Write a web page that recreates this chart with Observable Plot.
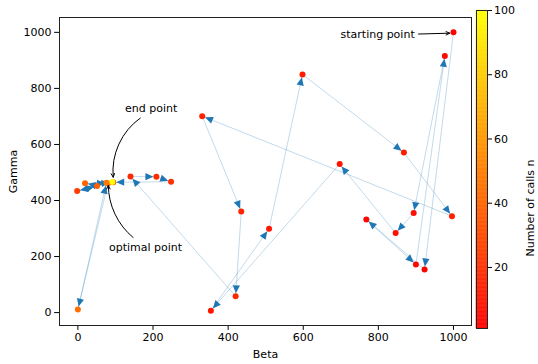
<!DOCTYPE html>
<html><head><meta charset="utf-8">
<script src="https://cdn.jsdelivr.net/npm/d3@7"></script>
<script src="https://cdn.jsdelivr.net/npm/@observablehq/plot@0.6"></script>
<style>
body{margin:0;background:#fff;}
#wrap{position:relative;width:538px;height:364px;}
#wrap svg{position:absolute;top:0;}
</style></head><body><div id="wrap"></div>
<script>
// Visited points in call order
const beta  = [1000, 923, 768, 900, 977, 894, 846, 697, 354, 509, 598, 868, 996, 331, 435, 420, 140, 209, 248, 94, -2, 51, 19, 80, 0, 76, 92];
const gamma = [1000, 154, 332, 172, 916, 355, 284, 530, 7, 299, 850, 571, 344, 701, 361, 58, 486, 485, 467, 465, 434, 452, 462, 461, 11, 463, 466];
const calls = [1, 2, 3, 4, 5, 6, 7, 8, 9, 10, 11, 12, 13, 14, 15, 16, 17, 18, 20, 21, 24, 38, 40, 42, 44, 48, 100];
const xTicks = [0, 200, 400, 600, 800, 1000];
const yTicks = [0, 200, 400, 600, 800, 1000];
const cTicks = [20, 40, 60, 80, 100];
// annotations
const annoLabel = ["starting point", "end point", "optimal point"];
const annoTextBeta = [798, 195, 180];
const annoTextGamma = [994, 729, 232];
const annoFromBeta = [907, 166, 147];
const annoFromGamma = [994, 694, 268];
const annoToBeta = [990, 94, 81];
const annoToGamma = [997, 483, 454];
const annoBend = [0, -30, 25];

const W = 538, H = 364, ML = 59, MR = 67, MT = 17, MB = 39;
const xDom = [-49, 1048], yDom = [-46, 1053];
const kx = (W - ML - MR) / (xDom[1] - xDom[0]);
const ky = (H - MT - MB) / (yDom[1] - yDom[0]);

const pts = beta.map((b, i) => ({beta: b, gamma: gamma[i], n: calls[i]}));
const segs = d3.range(pts.length - 1).map(i => ({x1: beta[i], y1: gamma[i], x2: beta[i + 1], y2: gamma[i + 1]}));
const heads = segs.map(s => {
  const sx = (s.x1 - s.x2) * kx, sy = -(s.y1 - s.y2) * ky;
  return {x: s.x2, y: s.y2, rot: Math.atan2(sx, -sy) * 180 / Math.PI, len: Math.hypot(sx, sy)};
}).filter(h => h.len > 6);

const headShape = {draw(ctx, l, r) {
  const d = 3, h = 8, w = 3.6;
  ctx.moveTo(0, -d); ctx.lineTo(w, -d - h); ctx.lineTo(-w, -d - h); ctx.closePath();
}};
const colorOpts = {type: "linear", domain: [1, 100], range: ["#ff0000", "#ffff00"], interpolate: "rgb"};
const font = "'DejaVu Sans', sans-serif";
const fmt = d3.format("d");

const main = Plot.plot({
  width: W, height: H, marginLeft: ML, marginRight: MR, marginTop: MT, marginBottom: MB,
  style: {fontFamily: font, fontSize: "11px", background: "transparent", color: "#000"},
  x: {domain: xDom, ticks: xTicks, tickFormat: fmt, tickSize: 4.9, tickPadding: 3, label: "Beta", labelAnchor: "center", labelOffset: 32, labelArrow: "none"},
  y: {domain: yDom, ticks: yTicks, tickFormat: fmt, tickSize: 4.9, tickPadding: 3, label: "Gamma", labelAnchor: "center", labelOffset: 50, labelArrow: "none"},
  color: colorOpts,
  marks: [
    Plot.link(segs, {x1: "x1", y1: "y1", x2: "x2", y2: "y2", stroke: "#1f77b4", strokeOpacity: 0.35, strokeWidth: 0.8}),
    Plot.vector(heads, {x: "x", y: "y", rotate: "rot", length: 10, anchor: "start", shape: headShape, fill: "#1f77b4", stroke: "none"}),
    Plot.dot(pts, {x: "beta", y: "gamma", fill: "n", r: 3, stroke: "none"}),
    Plot.frame({stroke: "#222", strokeWidth: 1}),
    Plot.text(annoLabel, {x: (d, i) => annoTextBeta[i], y: (d, i) => annoTextGamma[i], text: d => d, fill: "#000", fontSize: 11}),
    ...annoLabel.map((_, k) => Plot.arrow([k], {
      x1: i => annoFromBeta[i], y1: i => annoFromGamma[i], x2: i => annoToBeta[i], y2: i => annoToGamma[i],
      bend: annoBend[k], stroke: "#000", strokeWidth: 1, headLength: 6, headAngle: 50
    }))
  ]
});

const cb = Plot.plot({
  width: 78, height: H, marginLeft: 16, marginRight: 51, marginTop: 10, marginBottom: 36,
  style: {fontFamily: font, fontSize: "11px", background: "transparent", color: "#000"},
  x: {domain: [0, 1], axis: null},
  y: {domain: [1, 100], ticks: cTicks, tickFormat: fmt, tickSize: 4, tickPadding: 2.5, axis: "right", label: null},
  color: colorOpts,
  marks: [
    Plot.rect(d3.range(1, 100, 0.25), {x1: 0, x2: 1, y1: d => d, y2: d => Math.min(100, d + 0.25), fill: d => d, stroke: d => d, strokeWidth: 0.4}),
    Plot.frame({stroke: "#222", strokeWidth: 1}),
    Plot.text(["Number of calls n"], {frameAnchor: "right", text: d => d, rotate: -90, dx: 43, dy: -10, fontSize: 11, fill: "#000"})
  ]
});

const wrap = document.getElementById("wrap");
main.style.left = "0px";
cb.style.left = "460px";
wrap.appendChild(main);
wrap.appendChild(cb);
</script>
</body></html>
